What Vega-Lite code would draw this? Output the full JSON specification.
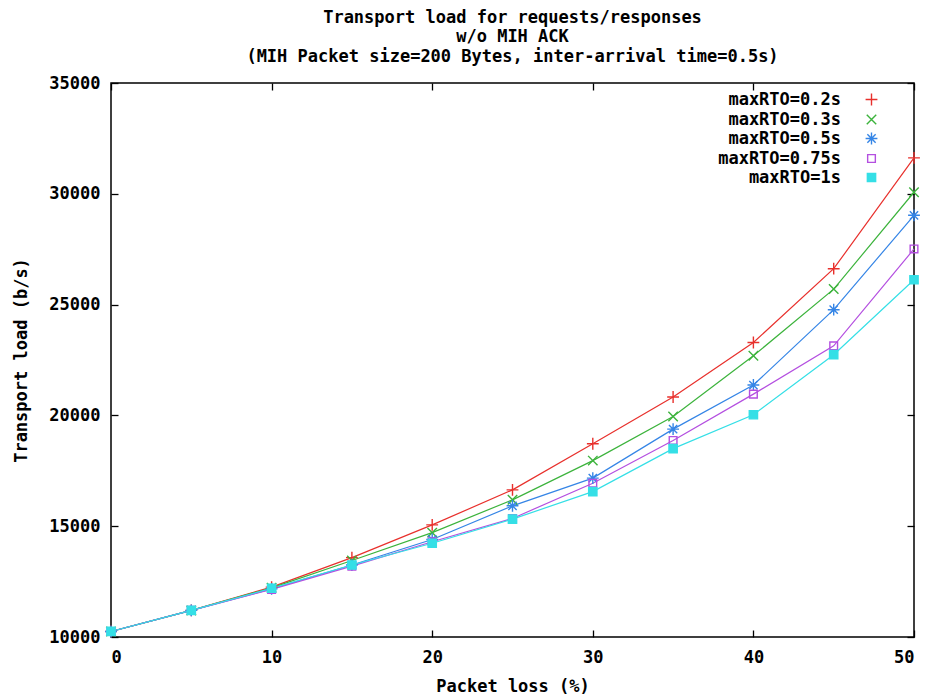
{
  "$schema": "https://vega.github.io/schema/vega-lite/v6.json",
  "width": 803,
  "height": 554,
  "autosize": "none",
  "padding": {"left": 111, "top": 83, "right": 14, "bottom": 59},
  "background": "white",
  "config": {
    "font": "DejaVu Sans Mono",
    "view": {"stroke": "#000000", "strokeWidth": 1.5},
    "axis": {
      "labelFont": "DejaVu Sans Mono", "labelFontWeight": "bold", "labelFontSize": 17, "labelColor": "#000",
      "titleFont": "DejaVu Sans Mono", "titleFontWeight": "bold", "titleFontSize": 17, "titleColor": "#000",
      "grid": false, "domain": false, "tickColor": "#000", "tickWidth": 1.3
    }
  },
  "title": {
    "text": ["Transport load for requests/responses", "w/o MIH ACK", "(MIH Packet size=200 Bytes, inter-arrival time=0.5s)"],
    "font": "DejaVu Sans Mono", "fontSize": 17, "fontWeight": "bold", "color": "#000",
    "anchor": "middle", "lineHeight": 19.5, "offset": 8.5
  },
  "data": {
    "values": [
      {"s": "maxRTO=0.2s", "x": 0, "y": 10250}, {"s": "maxRTO=0.2s", "x": 5, "y": 11200}, {"s": "maxRTO=0.2s", "x": 10, "y": 12250}, {"s": "maxRTO=0.2s", "x": 15, "y": 13580}, {"s": "maxRTO=0.2s", "x": 20, "y": 15060}, {"s": "maxRTO=0.2s", "x": 25, "y": 16640}, {"s": "maxRTO=0.2s", "x": 30, "y": 18720}, {"s": "maxRTO=0.2s", "x": 35, "y": 20830}, {"s": "maxRTO=0.2s", "x": 40, "y": 23290}, {"s": "maxRTO=0.2s", "x": 45, "y": 26620}, {"s": "maxRTO=0.2s", "x": 50, "y": 31620},
      {"s": "maxRTO=0.3s", "x": 0, "y": 10250}, {"s": "maxRTO=0.3s", "x": 5, "y": 11200}, {"s": "maxRTO=0.3s", "x": 10, "y": 12220}, {"s": "maxRTO=0.3s", "x": 15, "y": 13450}, {"s": "maxRTO=0.3s", "x": 20, "y": 14710}, {"s": "maxRTO=0.3s", "x": 25, "y": 16190}, {"s": "maxRTO=0.3s", "x": 30, "y": 17960}, {"s": "maxRTO=0.3s", "x": 35, "y": 19950}, {"s": "maxRTO=0.3s", "x": 40, "y": 22690}, {"s": "maxRTO=0.3s", "x": 45, "y": 25700}, {"s": "maxRTO=0.3s", "x": 50, "y": 30070},
      {"s": "maxRTO=0.5s", "x": 0, "y": 10250}, {"s": "maxRTO=0.5s", "x": 5, "y": 11200}, {"s": "maxRTO=0.5s", "x": 10, "y": 12170}, {"s": "maxRTO=0.5s", "x": 15, "y": 13250}, {"s": "maxRTO=0.5s", "x": 20, "y": 14400}, {"s": "maxRTO=0.5s", "x": 25, "y": 15920}, {"s": "maxRTO=0.5s", "x": 30, "y": 17170}, {"s": "maxRTO=0.5s", "x": 35, "y": 19380}, {"s": "maxRTO=0.5s", "x": 40, "y": 21370}, {"s": "maxRTO=0.5s", "x": 45, "y": 24770}, {"s": "maxRTO=0.5s", "x": 50, "y": 29030},
      {"s": "maxRTO=0.75s", "x": 0, "y": 10250}, {"s": "maxRTO=0.75s", "x": 5, "y": 11200}, {"s": "maxRTO=0.75s", "x": 10, "y": 12150}, {"s": "maxRTO=0.75s", "x": 15, "y": 13200}, {"s": "maxRTO=0.75s", "x": 20, "y": 14300}, {"s": "maxRTO=0.75s", "x": 25, "y": 15350}, {"s": "maxRTO=0.75s", "x": 30, "y": 16940}, {"s": "maxRTO=0.75s", "x": 35, "y": 18870}, {"s": "maxRTO=0.75s", "x": 40, "y": 20960}, {"s": "maxRTO=0.75s", "x": 45, "y": 23140}, {"s": "maxRTO=0.75s", "x": 50, "y": 27510},
      {"s": "maxRTO=1s", "x": 0, "y": 10250}, {"s": "maxRTO=1s", "x": 5, "y": 11200}, {"s": "maxRTO=1s", "x": 10, "y": 12200}, {"s": "maxRTO=1s", "x": 15, "y": 13250}, {"s": "maxRTO=1s", "x": 20, "y": 14230}, {"s": "maxRTO=1s", "x": 25, "y": 15320}, {"s": "maxRTO=1s", "x": 30, "y": 16560}, {"s": "maxRTO=1s", "x": 35, "y": 18500}, {"s": "maxRTO=1s", "x": 40, "y": 20030}, {"s": "maxRTO=1s", "x": 45, "y": 22740}, {"s": "maxRTO=1s", "x": 50, "y": 26120}
    ]
  },
  "resolve": {"scale": {"x": "shared", "y": "shared"}, "axis": {"x": "independent", "y": "independent"}},
  "layer": [
    {
      "mark": {"type": "line", "strokeWidth": 1.2},
      "encoding": {
        "x": {
          "field": "x", "type": "quantitative",
          "scale": {"domain": [0, 50], "nice": false, "zero": false},
          "axis": {"title": "Packet loss (%)", "values": [0, 10, 20, 30, 40, 50], "tickSize": -7, "labelPadding": 19, "titlePadding": 13, "format": "d"}
        },
        "y": {
          "field": "y", "type": "quantitative",
          "scale": {"domain": [10000, 35000], "nice": false, "zero": false},
          "axis": {"title": "Transport load (b/s)", "values": [10000, 15000, 20000, 25000, 30000, 35000], "tickSize": -7, "labelPadding": 18, "titlePadding": 18, "format": "d"}
        },
        "stroke": {"field": "s", "type": "nominal",
          "scale": {"domain": ["maxRTO=0.2s", "maxRTO=0.3s", "maxRTO=0.5s", "maxRTO=0.75s", "maxRTO=1s"], "range": ["#e8302c", "#3cb33c", "#3585e6", "#b44fe0", "#35dfe6"]}},
        "detail": {"field": "s"}
      }
    },
    {
      "mark": {"type": "point", "strokeWidth": 1.4, "opacity": 1, "size": 140},
      "encoding": {
        "x": {
          "field": "x", "type": "quantitative",
          "axis": {"orient": "top", "title": null, "labels": false, "values": [0, 10, 20, 30, 40, 50], "tickSize": -7}
        },
        "y": {
          "field": "y", "type": "quantitative",
          "axis": {"orient": "right", "title": null, "labels": false, "values": [10000, 15000, 20000, 25000, 30000, 35000], "tickSize": -7}
        },
        "stroke": {"field": "s", "type": "nominal",
          "legend": {"title": null, "orient": "none", "legendX": 752, "legendY": 8, "labelAlign": "right", "labelOffset": -39,
            "labelFont": "DejaVu Sans Mono", "labelFontWeight": "bold", "labelFontSize": 17, "labelColor": "#000", "rowPadding": 1,
            "symbolStrokeWidth": 1.4, "symbolSize": 140}},
        "fill": {"field": "s", "type": "nominal",
          "scale": {"domain": ["maxRTO=0.2s", "maxRTO=0.3s", "maxRTO=0.5s", "maxRTO=0.75s", "maxRTO=1s"], "range": ["transparent", "transparent", "transparent", "transparent", "#35dfe6"]}},
        "shape": {"field": "s", "type": "nominal",
          "scale": {"domain": ["maxRTO=0.2s", "maxRTO=0.3s", "maxRTO=0.5s", "maxRTO=0.75s", "maxRTO=1s"],
            "range": ["M-1,0L1,0M0,-1L0,1", "M-0.8,-0.8L0.8,0.8M-0.8,0.8L0.8,-0.8", "M-1,0L1,0M0,-1L0,1M-0.7,-0.7L0.7,0.7M-0.7,0.7L0.7,-0.7", "M-0.65,-0.65L0.65,-0.65L0.65,0.65L-0.65,0.65Z", "M-0.7,-0.7L0.7,-0.7L0.7,0.7L-0.7,0.7Z"]}}
      }
    }
  ]
}
